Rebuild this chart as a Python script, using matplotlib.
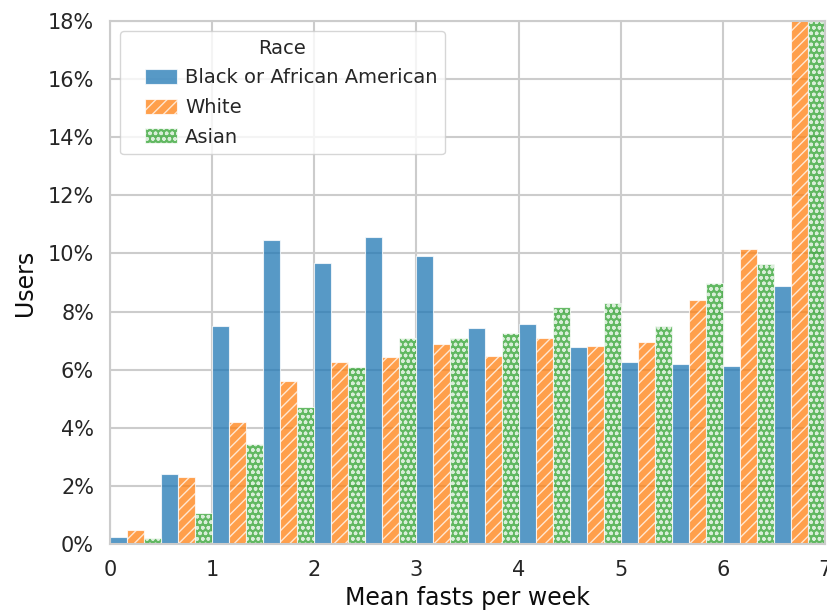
import numpy as np
import matplotlib
matplotlib.use("Agg")
import matplotlib.pyplot as plt
import seaborn as sns
from matplotlib.container import BarContainer
from matplotlib.patches import Rectangle
from matplotlib.legend_handler import HandlerPatch, update_from_first_child
from matplotlib.ticker import PercentFormatter, MultipleLocator

# share of users (%) per half-day bin of mean fasts per week
bin_edges = np.arange(0, 7.5, 0.5)
black = [0.23, 2.40, 7.50, 10.45, 9.66, 10.56, 9.91, 7.43, 7.56, 6.77, 6.25, 6.20, 6.11, 8.89]
white = [0.47, 2.32, 4.21, 5.60, 6.27, 6.45, 6.87, 6.48, 7.10, 6.82, 6.97, 8.40, 10.16, 21.90]
asian = [0.20, 1.08, 3.45, 4.70, 6.08, 7.08, 7.08, 7.27, 8.16, 8.28, 7.49, 9.00, 9.65, 20.48]
groups = ["Black or African American", "White", "Asian"]

sns.set_style("whitegrid")
plt.rcParams["font.family"] = ["DejaVu Sans"]

fig = plt.figure(figsize=(8.27, 6.13), dpi=100)
ax = fig.add_axes([0.133, 0.1126, 0.8646, 0.853])

palette = sns.color_palette("tab10")
hatches = [None, "///", "ooo"]
n = len(groups)
width = 0.5 / n
for i, (vals, name) in enumerate(zip([black, white, asian], groups)):
    ax.bar(bin_edges[:-1] + i * width, vals, width=width, align="edge",
           color=palette[i], alpha=0.75, edgecolor="white", linewidth=0.8,
           hatch=hatches[i], label=name, zorder=2)

ax.set_xlim(0, 7)
ax.set_ylim(0, 18)
ax.yaxis.set_major_locator(MultipleLocator(2))
ax.yaxis.set_major_formatter(PercentFormatter(100, decimals=0))
ax.tick_params(axis="both", labelsize=15, pad=8, colors=".15")
ax.set_xlabel("Mean fasts per week", fontsize=17, color=".05")
ax.set_ylabel("Users", fontsize=17, color=".05", labelpad=8)
ax.grid(True, color=".8", linewidth=1.5, zorder=0)
for sp in ax.spines.values():
    sp.set_color(".8")
    sp.set_linewidth(1.5)


def right_swatch(legend, orig_handle, xdescent, ydescent, width, height, fontsize):
    # swatch sits at the right end of the handle box, next to its label
    sw = 1.65 * fontsize
    return Rectangle((-xdescent + width - sw, -ydescent), sw, height)


bar_handler = HandlerPatch(patch_func=right_swatch, update_func=update_from_first_child)
leg = ax.legend(title="Race", loc="upper left", fontsize=14, title_fontsize=14,
                handlelength=2.55, handletextpad=0.4, labelspacing=0.55,
                handleheight=0.8, framealpha=0.8,
                handler_map={BarContainer: bar_handler})
for t in leg.get_texts():
    t.set_color(".15")
leg.get_title().set_color(".15")

fig.savefig("out.png", dpi=100)
